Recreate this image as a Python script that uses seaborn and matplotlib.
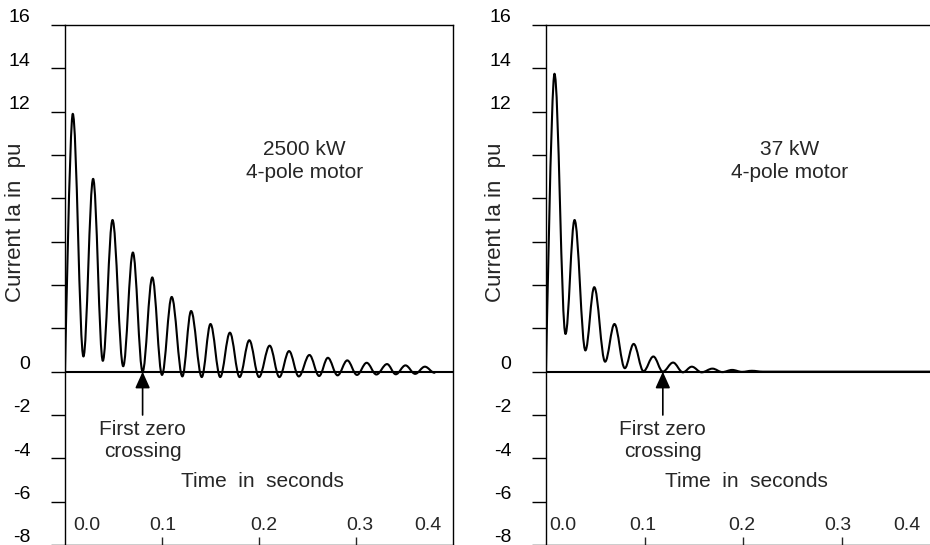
import matplotlib
matplotlib.use('Agg')
import matplotlib.pyplot as plt
import matplotlib.transforms as mtransforms
from matplotlib.path import Path
from matplotlib.patches import PathPatch
import seaborn as sns

# Starting current of two 4-pole motors (peaks and troughs)
t_2500 = [0, 0.008, 0.019, 0.029, 0.039, 0.049, 0.060, 0.070, 0.080, 0.090,
          0.100, 0.110, 0.121, 0.130, 0.141, 0.150, 0.160, 0.170, 0.180, 0.190,
          0.200, 0.211, 0.221, 0.231, 0.241, 0.252, 0.262, 0.271, 0.281, 0.291,
          0.301, 0.311, 0.321, 0.332, 0.341, 0.351, 0.361, 0.371, 0.381]
i_2500 = [0, 11.9, 0.7, 8.9, 0.5, 7.0, 0.25, 5.5, 0.0, 4.35,
          -0.15, 3.45, -0.22, 2.8, -0.25, 2.2, -0.25, 1.8, -0.25, 1.45,
          -0.25, 1.2, -0.25, 0.95, -0.22, 0.77, -0.2, 0.64, -0.17, 0.52,
          -0.15, 0.41, -0.13, 0.35, -0.12, 0.29, -0.1, 0.23, -0.05]

t_37 = [0, 0.0086, 0.0198, 0.029, 0.040, 0.049, 0.060, 0.0695, 0.080, 0.089,
        0.099, 0.109, 0.1186, 0.129, 0.139, 0.148, 0.158, 0.169, 0.179, 0.189,
        0.199, 0.209, 0.22, 0.39]
i_37 = [0, 13.75, 1.74, 7.0, 0.98, 3.9, 0.46, 2.2, 0.16, 1.28,
        0.02, 0.7, 0.0, 0.42, -0.03, 0.23, -0.03, 0.14, -0.02, 0.08,
        -0.01, 0.04, 0.0, 0.0]

motor_titles = ['2500 kW', '37 kW']
y_ticks = list(range(-8, 17, 2))
y_tick_labels = ['-8', '-6', '-4', '-2', '0', '', '', '', '', '', '12', '14', '16']
x_ticks = [0.1, 0.2, 0.3]
x_tick_labels = ['0.0', '0.1', '0.2', '0.3', '0.4']

sns.set_theme(style='white')
plt.rcParams['font.family'] = ['Liberation Sans', 'DejaVu Sans']
fs = 14     # tick labels
fs_txt = 15  # annotations


def trace(ax, t, cur):
    # smooth curve through the read extrema (horizontal tangent at each peak/trough)
    verts = [(t[0], cur[0])]
    codes = [Path.MOVETO]
    for k in range(1, len(t)):
        d = 0.36 * (t[k] - t[k - 1])
        c1 = (t[k - 1], cur[k - 1]) if k == 1 else (t[k - 1] + d, cur[k - 1])
        verts += [c1, (t[k] - d, cur[k]), (t[k], cur[k])]
        codes += [Path.CURVE4] * 3
    ax.add_patch(PathPatch(Path(verts, codes), facecolor='none',
                           edgecolor='black', linewidth=1.5, capstyle='round',
                           joinstyle='round'))


fig = plt.figure(figsize=(9.3, 5.45), dpi=100)
ax1 = fig.add_axes([65 / 930, 0, 388 / 930, 520 / 545])
ax2 = fig.add_axes([546 / 930, 0, 394 / 930, 520 / 545])

panels = [
    (ax1, t_2500, i_2500, motor_titles[0], [0.0227, 0.101, 0.205, 0.304, 0.374], -0.10),
    (ax2, t_37, i_37, motor_titles[1], [0.0168, 0.098, 0.199, 0.296, 0.366], -0.102),
]

for ax, t, cur, title, lab_x, ylab_x in panels:
    trace(ax, t, cur)
    ax.axhline(0, color='black', linewidth=1.5)

    ax.set_xlim(0, 0.4)
    ax.set_ylim(-8, 16)
    for s in ax.spines.values():
        s.set_color('black')
        s.set_linewidth(1.0)

    ax.set_yticks(y_ticks)
    ax.set_yticklabels(y_tick_labels, fontsize=fs)
    ax.tick_params(axis='y', direction='out', length=10, width=1, pad=15,
                   left=True, colors='black')
    offset = mtransforms.ScaledTranslation(0, 9 / 100, fig.dpi_scale_trans)
    for lab in ax.get_yticklabels():
        lab.set_transform(lab.get_transform() + offset)

    ax.set_xticks(x_ticks)
    ax.set_xticklabels([])
    ax.tick_params(axis='x', direction='in', length=6, width=1, bottom=True)
    trans = mtransforms.blended_transform_factory(ax.transData, ax.transAxes)
    for x, lab in zip(lab_x, x_tick_labels):
        ax.text(x, 0.038, lab, transform=trans, ha='center', va='center', fontsize=fs)

    ax.set_ylabel('Current Ia in  pu', fontsize=16)
    ax.yaxis.set_label_coords(ylab_x, 0.62)

    ax.text(0.247, 10.25, title, ha='center', va='center', fontsize=fs_txt)
    ax.text(0.247, 9.2, '4-pole motor', ha='center', va='center', fontsize=fs_txt)

    # first zero crossing of the current
    k0 = next(k for k in range(1, len(cur)) if cur[k] <= 0)
    tz = t[k0]
    ax.annotate('', xy=(tz, 0), xytext=(tz, -2.0),
                arrowprops=dict(arrowstyle='-|>,head_length=1.0,head_width=0.45',
                                mutation_scale=10, color='black', lw=1.2,
                                shrinkA=0, shrinkB=0))
    ax.text(tz, -2.68, 'First zero', ha='center', va='center', fontsize=fs_txt)
    ax.text(tz, -3.7, 'crossing', ha='center', va='center', fontsize=fs_txt)
    ax.text(0.2035, -5.08, 'Time  in  seconds', ha='center', va='center', fontsize=fs_txt)

fig.savefig('out.png', dpi=100)
